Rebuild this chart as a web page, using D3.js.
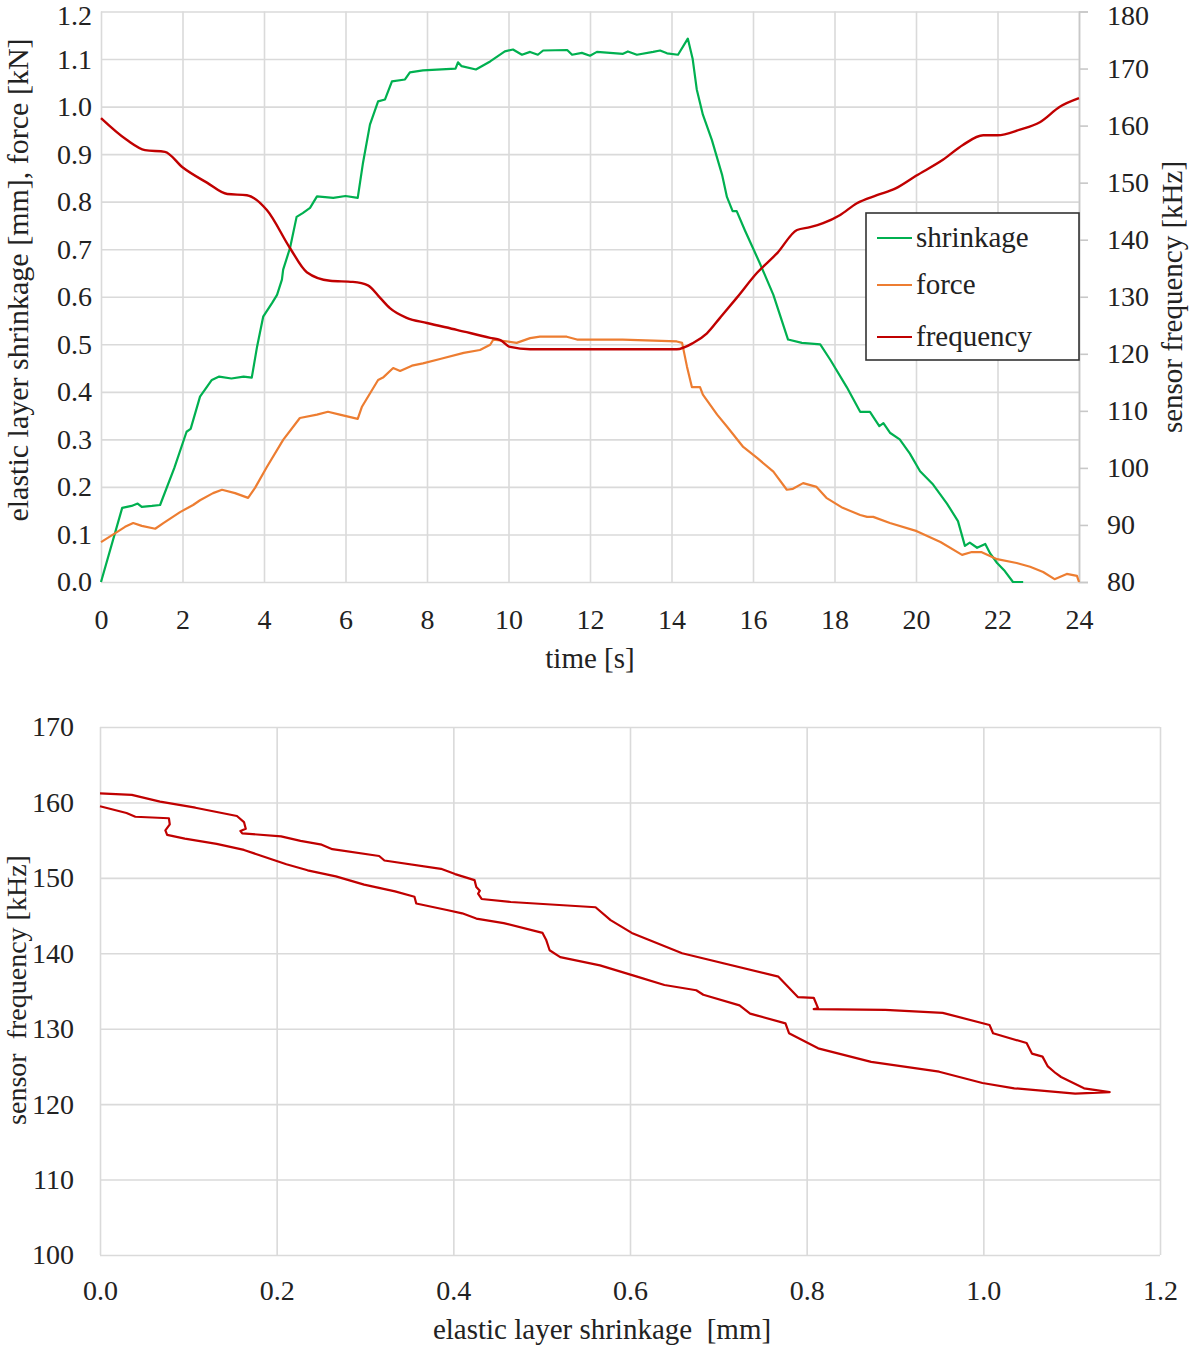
<!DOCTYPE html>
<html>
<head>
<meta charset="utf-8">
<script src="https://cdn.jsdelivr.net/npm/d3@7"></script>
<style>
  html, body { margin: 0; padding: 0; background: #fff; }
  svg text { font-family: "Liberation Serif", "DejaVu Serif", serif; fill: #222; }
</style>
</head>
<body>
<svg id="chart" width="1192" height="1349"></svg>
<script>
// ---------- DATA ----------
// Top chart: time series, time [s]
const shrinkageTime = [0,0.52,0.75,0.9,1.0,1.25,1.45,1.8,2.1,2.2,2.43,2.72,2.9,3.2,3.5,3.7,3.83,3.98,4.2,4.32,4.44,4.47,4.64,4.8,4.95,5.13,5.3,5.7,6.0,6.3,6.43,6.6,6.8,6.97,7.14,7.46,7.58,7.9,8.7,8.76,8.85,9.2,9.55,9.91,10.11,10.33,10.53,10.72,10.85,11.44,11.56,11.8,12.0,12.17,12.81,12.93,13.15,13.55,13.72,13.89,14.16,14.4,14.52,14.62,14.77,14.99,15.24,15.36,15.5,15.6,15.8,16.17,16.5,16.86,17.2,17.65,17.9,18.3,18.63,18.87,19.1,19.2,19.36,19.6,19.85,20.1,20.42,20.76,21.03,21.2,21.32,21.5,21.7,21.82,21.99,22.18,22.38,22.63];
const shrinkageValues = [0,0.156,0.16,0.165,0.158,0.16,0.162,0.24,0.316,0.322,0.39,0.425,0.432,0.428,0.432,0.43,0.495,0.558,0.587,0.604,0.636,0.657,0.703,0.768,0.776,0.787,0.811,0.808,0.812,0.808,0.882,0.962,1.011,1.015,1.053,1.057,1.072,1.076,1.08,1.093,1.085,1.078,1.095,1.116,1.12,1.109,1.115,1.109,1.118,1.119,1.109,1.113,1.107,1.115,1.111,1.116,1.109,1.115,1.118,1.112,1.109,1.143,1.1,1.036,0.983,0.93,0.857,0.81,0.78,0.78,0.74,0.67,0.604,0.51,0.503,0.5,0.467,0.41,0.358,0.358,0.328,0.334,0.314,0.3,0.27,0.233,0.205,0.165,0.128,0.076,0.083,0.072,0.08,0.06,0.04,0.023,0.0,0.0];

const forceTime = [0,0.39,0.59,0.79,1.0,1.33,1.53,1.94,2.26,2.43,2.75,2.97,3.29,3.61,3.78,4.07,4.47,4.88,5.3,5.57,5.86,6.3,6.4,6.8,6.92,7.17,7.34,7.63,7.9,8.32,8.9,9.3,9.55,9.63,9.8,10.2,10.53,10.77,11.43,11.68,12.8,14.13,14.26,14.38,14.5,14.7,14.77,15.12,15.36,15.76,16.1,16.5,16.83,16.98,17.23,17.56,17.8,18.2,18.63,18.8,18.95,19.36,20.02,20.6,21.13,21.37,21.6,21.99,22.47,22.8,23.12,23.4,23.7,23.95,24];
const forceValues = [0.084,0.105,0.116,0.124,0.118,0.112,0.124,0.147,0.162,0.172,0.187,0.194,0.187,0.177,0.198,0.242,0.299,0.345,0.352,0.358,0.352,0.343,0.368,0.425,0.43,0.45,0.444,0.455,0.46,0.469,0.482,0.488,0.499,0.51,0.508,0.503,0.513,0.516,0.516,0.51,0.51,0.506,0.503,0.453,0.41,0.41,0.394,0.352,0.327,0.284,0.261,0.232,0.194,0.196,0.208,0.2,0.177,0.156,0.141,0.137,0.137,0.124,0.107,0.084,0.057,0.063,0.063,0.048,0.04,0.032,0.021,0.006,0.017,0.013,0.0];

const frequencyTime = [0,0.63,1.08,1.57,2.0,2.6,3.1,3.58,4.07,4.64,5.05,5.62,6.18,6.55,6.85,7.09,7.5,8.0,8.73,9.55,9.8,10.04,10.53,14.13,14.53,14.87,15.19,15.6,16.1,16.6,17.08,17.4,17.72,18.13,18.55,19.04,19.5,20.0,20.66,21.15,21.65,22.0,22.55,23.04,23.53,24.0];
const frequencyValues = [161.3,157.5,155.7,155.4,152.7,150,148,147.8,145.2,138.5,134.3,132.8,132.6,132,129.8,128,126.3,125.4,124.2,122.8,122.4,121.2,120.8,120.8,121.9,123.6,126.3,129.8,134.2,137.7,141.7,142.2,142.9,144.3,146.4,147.8,149,151.2,154,156.6,158.3,158.3,159.3,160.6,163.3,164.8];

// Bottom chart: frequency vs shrinkage loop (loading branch, then unloading branch)
const loopShrinkage = [0,0.036,0.068,0.108,0.155,0.163,0.165,0.159,0.161,0.205,0.227,0.251,0.263,0.316,0.322,0.386,0.402,0.424,0.426,0.430,0.428,0.432,0.465,0.561,0.578,0.602,0.659,0.768,0.79,0.808,0.813,0.808,0.889,0.954,1.007,1.011,1.049,1.055,1.067,1.073,1.082,1.088,1.114,1.143,1.104,1.035,0.999,0.95,0.873,0.813,0.78,0.776,0.736,0.724,0.683,0.675,0.639,0.608,0.566,0.521,0.509,0.505,0.501,0.457,0.426,0.41,0.394,0.358,0.356,0.334,0.299,0.267,0.235,0.211,0.163,0.132,0.096,0.076,0.074,0.079,0.078,0.04,0.03,0];
const loopFrequency = [161.2,161.0,160.1,159.3,158.2,157.4,156.5,156.2,155.9,155.5,154.9,154.4,153.8,152.9,152.3,151.2,150.5,149.7,148.8,148.3,147.9,147.2,146.8,146.1,144.4,142.7,140,136.9,134.2,134.1,132.7,132.6,132.5,132.1,130.5,129.4,128.1,126.7,126.3,125,124.1,123.6,122.1,121.6,121.4,122.1,122.8,124.3,125.6,127.4,129.4,130.7,132,133.1,134.5,135.1,135.8,136.9,138.4,139.5,140.4,141.8,142.7,144,144.6,145.3,145.7,146.6,147.5,148.2,149.1,150.2,151,151.8,153.7,154.5,155.2,155.7,156.3,157.1,157.9,158.1,158.6,159.5];

// Axis ticks / labels
const timeTicks = d3.range(0, 25, 2);
const leftTicks = d3.range(0, 13).map(d => d / 10);
const rightTicks = d3.range(80, 181, 10);
const loopXTicks = [0, 0.2, 0.4, 0.6, 0.8, 1.0, 1.2];
const loopYTicks = d3.range(100, 171, 10);

const seriesNames = ["shrinkage", "force", "frequency"];
const seriesColors = ["#00B050", "#ED7D31", "#C00000"];

// ---------- DRAWING ----------
const svg = d3.select("#chart");
const gridColor = "#dadada";
const TICK_FS = 28, TITLE_FS = 29;

function styleGrid(g) {
  g.select(".domain").remove();
  g.selectAll(".tick line").attr("stroke", gridColor).attr("stroke-width", 1.6);
  g.selectAll(".tick text").remove();
}
function styleLabels(g) {
  g.select(".domain").remove();
  g.selectAll(".tick line").remove();
  g.selectAll(".tick text").attr("font-size", TICK_FS).attr("fill", "#222")
    .attr("font-family", "Liberation Serif, serif");
}

// ===== TOP CHART =====
const x = d3.scaleLinear().domain([0, 24]).range([101, 1079]);
const yL = d3.scaleLinear().domain([0, 1.2]).range([582, 11.5]);
const yR = d3.scaleLinear().domain([80, 180]).range([582, 11.5]);

const topG = svg.append("g");
topG.append("g").attr("transform", "translate(0,582)")
  .call(d3.axisBottom(x).tickValues(timeTicks).tickSize(-(582 - 11.5)))
  .call(styleGrid);
topG.append("g").attr("transform", "translate(101,0)")
  .call(d3.axisLeft(yL).tickValues(leftTicks).tickSize(-(1079 - 101)))
  .call(styleGrid);

const rAxis = topG.append("g").attr("transform", "translate(1079,0)")
  .call(d3.axisRight(yR).tickValues(rightTicks).tickSize(9).tickPadding(19).tickFormat(d3.format("d")));
rAxis.select(".domain").attr("stroke", "#c8c8c8").attr("stroke-width", 1.6);
rAxis.selectAll(".tick line").attr("stroke", "#c8c8c8").attr("stroke-width", 1.6);
rAxis.selectAll(".tick text").attr("font-size", TICK_FS).attr("fill", "#222")
  .attr("font-family", "Liberation Serif, serif")
  .attr("dy", d => d === 180 ? "0.45em" : "0.32em");

topG.append("g").attr("transform", "translate(0,582)")
  .call(d3.axisBottom(x).tickValues(timeTicks).tickSize(0).tickPadding(27).tickFormat(d3.format("d")))
  .call(styleLabels);
topG.append("g").attr("transform", "translate(101,0)")
  .call(d3.axisLeft(yL).tickValues(leftTicks).tickSize(0).tickPadding(9).tickFormat(d3.format(".1f")))
  .call(styleLabels)
  .call(g => g.selectAll(".tick text").attr("dy", d => d === 1.2 ? "0.45em" : "0.32em"));

topG.append("text").attr("x", 590).attr("y", 668).attr("text-anchor", "middle")
  .attr("font-size", TITLE_FS).text("time [s]");
topG.append("text").attr("transform", "translate(28,280) rotate(-90)").attr("text-anchor", "middle")
  .attr("font-size", 30).text("elastic layer shrinkage [mm], force [kN]");
topG.append("text").attr("transform", "translate(1182,297) rotate(-90)").attr("text-anchor", "middle")
  .attr("font-size", TITLE_FS).text("sensor frequency [kHz]");

const lineL = d3.line().x(d => x(d[0])).y(d => yL(d[1]));
const lineR = d3.line().x(d => x(d[0])).y(d => yR(d[1])).curve(d3.curveMonotoneX);
const shrinkData = d3.zip(shrinkageTime, shrinkageValues);
const forceData = d3.zip(forceTime, forceValues);
const freqData = d3.zip(frequencyTime, frequencyValues);

topG.append("path").datum(shrinkData).attr("d", lineL).attr("fill", "none")
  .attr("stroke", seriesColors[0]).attr("stroke-width", 2.2).attr("stroke-linejoin", "round");
topG.append("path").datum(forceData).attr("d", lineL).attr("fill", "none")
  .attr("stroke", seriesColors[1]).attr("stroke-width", 2.2).attr("stroke-linejoin", "round");
topG.append("path").datum(freqData).attr("d", lineR).attr("fill", "none")
  .attr("stroke", seriesColors[2]).attr("stroke-width", 2.4).attr("stroke-linejoin", "round");

const lg = topG.append("g");
lg.append("rect").attr("x", 866).attr("y", 213).attr("width", 213).attr("height", 147)
  .attr("fill", "#fff").attr("stroke", "#333").attr("stroke-width", 1.6);
const legY = [238, 285, 337];
seriesNames.forEach((n, i) => {
  lg.append("line").attr("x1", 877).attr("x2", 912).attr("y1", legY[i]).attr("y2", legY[i])
    .attr("stroke", seriesColors[i]).attr("stroke-width", 2.2);
  lg.append("text").attr("x", 916).attr("y", legY[i] + 9).attr("font-size", TITLE_FS).text(n);
});

// ===== BOTTOM CHART =====
const xb = d3.scaleLinear().domain([0, 1.2]).range([100, 1160]);
const yb = d3.scaleLinear().domain([100, 170]).range([1255, 727]);
const botG = svg.append("g");
botG.append("g").attr("transform", "translate(0,1255)")
  .call(d3.axisBottom(xb).tickValues(loopXTicks).tickSize(-(1255 - 727)))
  .call(styleGrid);
botG.append("g").attr("transform", "translate(100,0)")
  .call(d3.axisLeft(yb).tickValues(loopYTicks).tickSize(-(1160 - 100)))
  .call(styleGrid);
botG.append("g").attr("transform", "translate(0,1255)")
  .call(d3.axisBottom(xb).tickValues(loopXTicks).tickSize(0).tickPadding(25).tickFormat(d3.format(".1f")))
  .call(styleLabels);
botG.append("g").attr("transform", "translate(100,0)")
  .call(d3.axisLeft(yb).tickValues(loopYTicks).tickSize(0).tickPadding(26).tickFormat(d3.format("d")))
  .call(styleLabels);

botG.append("text").attr("x", 602).attr("y", 1339).attr("text-anchor", "middle")
  .attr("font-size", TITLE_FS).attr("xml:space", "preserve").text("elastic layer shrinkage  [mm]");
botG.append("text").attr("transform", "translate(26,990) rotate(-90)").attr("text-anchor", "middle")
  .attr("font-size", 28).attr("xml:space", "preserve").text("sensor  frequency [kHz]");

const loopLine = d3.line().x(d => xb(d[0])).y(d => yb(d[1]));
botG.append("path").datum(d3.zip(loopShrinkage, loopFrequency)).attr("d", loopLine)
  .attr("fill", "none").attr("stroke", seriesColors[2]).attr("stroke-width", 2.2)
  .attr("stroke-linejoin", "round");
</script>
</body>
</html>
